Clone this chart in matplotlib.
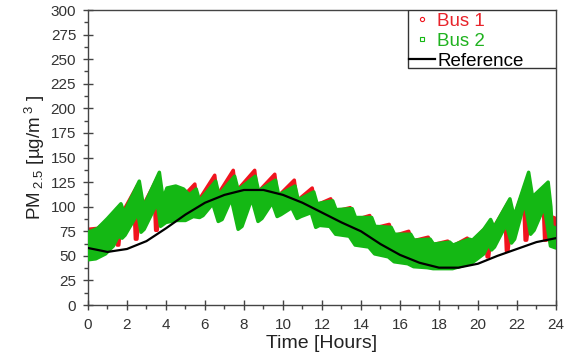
import matplotlib
matplotlib.use('Agg')
import matplotlib.pyplot as plt
from matplotlib.lines import Line2D
from matplotlib.patches import Rectangle
from matplotlib.ticker import MultipleLocator
import numpy as np

plt.rcParams['font.family'] = ['Liberation Sans', 'DejaVu Sans']
plt.rcParams['mathtext.fontset'] = 'custom'
plt.rcParams['mathtext.rm'] = 'Liberation Sans'
plt.rcParams['mathtext.it'] = 'Liberation Sans:italic'

# band envelopes (time [h], PM2.5 [ug/m3])
bus2_top_t = [0.0, 0.5, 1.0, 1.69, 1.85, 2.63, 2.85, 3.66, 3.85, 4.05, 4.5, 4.9, 5.2, 5.55, 5.72,
              6.55, 6.72, 7.52, 7.70, 8.58, 8.75, 9.62, 9.78, 10.62, 10.78, 11.58, 11.75, 12.55, 12.72,
              13.55, 13.72, 14.55, 14.72, 15.55, 15.72, 16.55, 16.72, 17.55, 17.72, 18.55, 18.72,
              19.55, 19.72, 20.30, 20.65, 20.82, 21.64, 21.85, 22.60, 22.80, 23.60, 23.74, 23.80, 24.0]
bus2_top_v = [74, 78, 88, 103, 94, 126, 100, 135, 108, 119, 121, 118, 112, 118, 106,
              126, 112, 131, 117, 131, 116, 127, 112, 121, 107, 115, 103, 106, 97,
              98, 89, 89, 80, 79, 72, 72, 66, 67, 62, 64, 61,
              67, 66, 77, 87, 79, 108, 90, 135, 110, 125, 100, 80, 78]
bus2_bot_t = [0.0, 0.4, 0.9, 1.3, 1.55, 1.75, 1.9, 2.40, 2.55, 2.72, 2.88, 3.40, 3.56, 3.72, 4.0,
              4.5, 5.0, 5.4, 5.72, 5.9, 6.40, 6.68, 6.88, 7.35, 7.70, 7.90, 8.40, 8.72, 8.92, 9.45,
              9.70, 9.90, 10.45, 10.72, 10.92, 11.45, 11.68, 11.88,
              12.40, 12.70, 13.40, 13.70, 14.40, 14.70, 15.40, 15.70, 16.40, 16.70, 17.40, 17.70,
              18.40, 18.70, 19.40, 19.70, 20.30, 20.55, 20.70, 20.85, 21.45, 21.72, 21.88, 22.40,
              22.70, 22.88, 23.40, 23.72, 24.0]
bus2_bot_v = [46, 47, 52, 60, 70, 68, 71, 88, 94, 74, 77, 98, 103, 80, 84,
              86, 86, 90, 89, 91, 103, 85, 87, 108, 77, 80, 108, 85, 88, 104,
              90, 92, 99, 88, 90, 94, 79, 81,
              80, 72, 70, 61, 59, 52, 49, 44, 42, 39, 38, 37,
              37, 37, 41, 43, 52, 62, 56, 59, 82, 63, 67, 105,
              72, 76, 100, 60, 58]

bus1_top_t = [0.0, 0.5, 1.0, 1.50, 1.60, 2.55, 2.70, 3.58, 3.75, 4.5, 5.0, 5.48, 5.60, 6.50, 6.62,
              7.45, 7.58, 8.55, 8.68, 9.58, 9.72, 10.58, 10.72, 11.50, 11.65, 12.45, 12.62, 13.45,
              13.62, 14.45, 14.62, 15.45, 15.62, 16.45, 16.62, 17.45, 17.62, 18.45, 18.62, 19.45,
              19.62, 20.55, 20.70, 21.55, 21.72, 22.50, 22.70, 23.50, 23.68, 23.75, 24.0]
bus1_top_v = [77, 78, 86, 98, 88, 122, 96, 130, 104, 117, 113, 123, 104, 132, 111,
              137, 115, 137, 114, 133, 110, 127, 106, 119, 101, 108, 95, 99,
              86, 91, 78, 82, 70, 75, 65, 69, 61, 65, 59, 68,
              62, 82, 75, 104, 82, 126, 104, 120, 98, 90, 88]
bus1_bot_t = [0.0, 0.5, 1.0, 1.46, 1.50, 1.58, 1.64, 2.38, 2.43, 2.51, 2.58, 3.42, 3.47, 3.55,
              3.62, 4.0, 4.6, 6.0, 7.0, 8.0, 9.0, 10.0, 11.0, 12.0, 13.0, 14.0, 15.0, 16.0, 17.0,
              18.0, 19.0, 20.0, 20.42, 20.47, 20.55, 20.62, 21.40, 21.46, 21.54, 21.62, 22.35,
              22.42, 22.50, 22.58, 23.35, 23.42, 23.52, 23.60, 23.75, 24.0]
bus1_bot_v = [62, 63, 66, 76, 61, 61, 74, 92, 67, 67, 82, 100, 76, 76,
              90, 90, 92, 104, 110, 112, 110, 104, 98, 90, 80, 68, 58, 48, 42,
              41, 45, 52, 60, 49, 49, 62, 84, 55, 55, 70, 105,
              66, 66, 80, 102, 66, 66, 72, 68, 70]

# reference curve
ref_t = list(range(0, 25))
ref_v = [58, 54, 57, 65, 78, 92, 104, 112, 117, 117, 112, 104, 94, 84, 75, 62, 51, 43, 38, 38,
         42, 50, 57, 64, 68]

red = '#f0141e'
green = '#14b814'

fig = plt.figure(figsize=(5.77, 3.64), dpi=100)
ax = fig.add_axes([0.1525, 0.162, 0.811, 0.8105])

# bus 1 under bus 2, then the reference on top
ax.fill(np.concatenate([bus1_top_t, bus1_bot_t[::-1]]),
        np.concatenate([bus1_top_v, bus1_bot_v[::-1]]),
        color=red, lw=2.5, ec=red, joinstyle='round', zorder=2)
ax.fill(np.concatenate([bus2_top_t, bus2_bot_t[::-1]]),
        np.concatenate([bus2_top_v, bus2_bot_v[::-1]]),
        color=green, lw=2.5, ec=green, joinstyle='round', zorder=3)
ax.plot(ref_t, ref_v, color='black', lw=1.6, zorder=4)

ax.set_xlim(0, 24)
ax.set_ylim(0, 300)
ax.xaxis.set_major_locator(MultipleLocator(2))
ax.xaxis.set_minor_locator(MultipleLocator(1))
ax.yaxis.set_major_locator(MultipleLocator(25))
ax.yaxis.set_minor_locator(MultipleLocator(12.5))
ax.tick_params(which='major', direction='inout', length=7, width=1, color='#444444',
               labelsize=11, labelcolor='#333333')
ax.tick_params(axis='x', which='major', pad=6)
ax.tick_params(axis='y', which='major', pad=5)
ax.tick_params(which='minor', direction='out', length=3, width=1, color='#444444')
for sp in ax.spines.values():
    sp.set_color('#444444')
    sp.set_linewidth(1)

ax.set_xlabel('Time [Hours]', fontsize=14, color='#222222', labelpad=2)
ax.set_ylabel(r'PM$_{\mathregular{\ 2.5}}$ [µg/m$^{\mathregular{\ 3}}$ ]', fontsize=13.5,
              color='#222222', labelpad=3)

# legend box in the upper right corner
ax.add_patch(Rectangle((0.684, 0.803), 0.316, 0.197, transform=ax.transAxes,
                       fc='white', ec='#333333', lw=1, zorder=5))
handles = [Line2D([], [], ls='none', marker='o', mfc='none', mec=red, ms=3, mew=0.8),
           Line2D([], [], ls='none', marker='s', mfc='none', mec=green, ms=3, mew=0.8),
           Line2D([], [], color='black', lw=1.6)]
leg = ax.legend(handles, ['Bus 1', 'Bus 2', 'Reference'], loc='upper left',
                bbox_to_anchor=(0.684, 0.995), borderaxespad=0, frameon=False,
                fontsize=13.5, handlelength=1.4, handletextpad=0.1,
                borderpad=0.05, labelspacing=0.16)
leg.set_zorder(6)
leg.get_texts()[0].set_color('#e8232b')
leg.get_texts()[1].set_color('#1fb21f')
leg.get_texts()[2].set_color('black')

plt.savefig('out.png', dpi=100)
